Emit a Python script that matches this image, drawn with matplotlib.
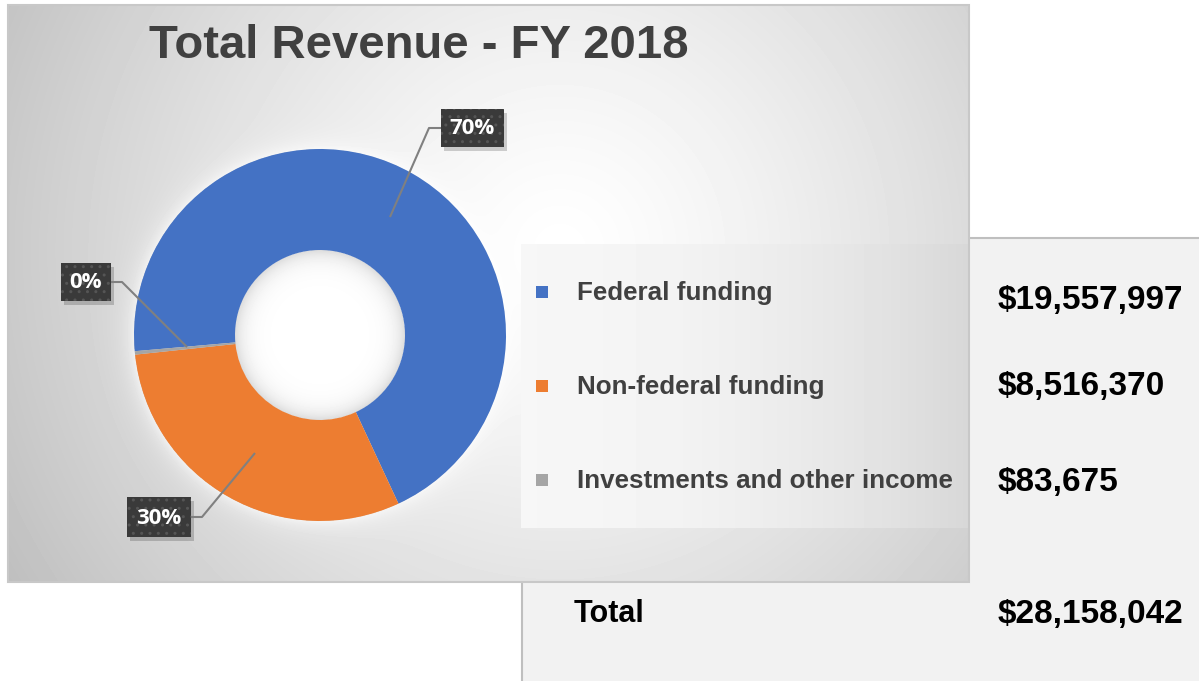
import numpy as np
import matplotlib.pyplot as plt
from matplotlib.patches import Rectangle

categories = ["Federal funding", "Non-federal funding", "Investments and other income"]
amounts = [19557997, 8516370, 83675]
amount_labels = ["$19,557,997", "$8,516,370", "$83,675"]
pct_labels = ["70%", "30%", "0%"]
total_label = "$28,158,042"
colors = ["#4472c4", "#ed7d31", "#a5a5a5"]

W, H = 1199, 681
plt.rcParams["hatch.linewidth"] = 1.0
fig = plt.figure(figsize=(W / 100, H / 100), dpi=100)

bg = fig.add_axes([0, 0, 1, 1])
bg.axis("off")

# table panel on the right (sits behind the chart area)
bg.add_patch(Rectangle((522, 238), W - 522, H - 238, facecolor="#f2f2f2", edgecolor="none", zorder=0))
bg.plot([522, 522], [238, H], color="#bfbfbf", lw=1.5, zorder=0.5)
bg.plot([522, W], [238, 238], color="#bfbfbf", lw=1.5, zorder=0.5)

# chart area background (radial gradient + glow around the donut)
x0, x1, y0, y1 = 8, 969, 5, 582
cx, cy, R, r_in = 320, 335, 186, 85
X, Y = np.meshgrid(np.arange(x0, x1) + 0.5, np.arange(y0, y1) + 0.5)
d = np.hypot(X - 560, Y - 250)
val = 1 - 0.24 * np.clip(d / 620, 0, 1.2) ** 1.3
rd = np.hypot(X - cx, Y - cy)
val = np.where(rd > R, val + (1 - val) * 0.6 * np.exp(-np.clip(rd - R, 0, None) / 10), val)
# legend box
leg = (X >= 521) & (X < 968) & (Y >= 244) & (Y < 528)
val[leg] = 0.965 - 0.12 * ((X[leg] - 521) / 447) ** 2
# donut hole
hole = rd < r_in
val[hole] = 1 - 0.14 * np.exp(-(r_in - rd[hole]) / 10)
bg.imshow(val, cmap="gray", vmin=0, vmax=1, extent=(x0, x1, y1, y0),
          interpolation="bilinear", aspect="auto", zorder=1)
bg.add_patch(Rectangle((x0, y0), x1 - x0, y1 - y0, fill=False, edgecolor="#c8c8c8", lw=1.5, zorder=2))
bg.set_xlim(0, W)
bg.set_ylim(H, 0)

# donut
pax = fig.add_axes([(cx - 200) / W, (H - cy - 200) / H, 400 / W, 400 / H])
pax.pie(amounts, colors=colors, startangle=185, counterclock=False, radius=1,
        wedgeprops=dict(width=1 - r_in / R, edgecolor="none"))
pax.set_xlim(-200 / R, 200 / R)
pax.set_ylim(-200 / R, 200 / R)
pax.axis("off")

# overlay: labels, legend, table text
top = fig.add_axes([0, 0, 1, 1])
top.set_xlim(0, W)
top.set_ylim(H, 0)
top.axis("off")

top.text(419, 46, "Total Revenue - FY 2018", ha="center", va="center", fontsize=34,
         fontweight="bold", color="#404040", family="Liberation Sans")

boxes = [(441, 109, 63, 38), (127, 497, 64, 40), (61, 263, 50, 38)]
leaders = [[(390, 217), (429, 128), (441, 128)],
           [(255, 453), (202, 517), (191, 517)],
           [(187, 347), (122, 282), (111, 282)]]
for lab, (bx, by, bw, bh), pts in zip(pct_labels, boxes, leaders):
    px, py = zip(*pts)
    top.plot(px, py, color="#808080", lw=1.5, solid_capstyle="butt")
    top.add_patch(Rectangle((bx + 3, by + 4), bw, bh, facecolor="black", alpha=0.18, edgecolor="none"))
    top.add_patch(Rectangle((bx, by), bw, bh, facecolor="#3a3a3a", edgecolor="#555555",
                            hatch="..", lw=0))
    top.text(bx + bw / 2, by + bh / 2 + 1, lab, ha="center", va="center", fontsize=16,
             fontweight="bold", color="white", family="Open Sans")

leg_y = [293, 387, 481]
val_y = [300, 387, 483]
for cat, col, ly, amt, vy in zip(categories, colors, leg_y, amount_labels, val_y):
    top.add_patch(Rectangle((536, ly - 7), 12, 12, facecolor=col, edgecolor="none"))
    top.text(577, ly, cat, ha="left", va="center", fontsize=18.7, fontweight="bold",
             color="#404040", family="Liberation Sans")
    top.text(998, vy, amt, ha="left", va="center", fontsize=24, fontweight="bold",
             color="black", family="Liberation Sans")

top.text(574, 614, "Total", ha="left", va="center", fontsize=22, fontweight="bold",
         color="black", family="Liberation Sans")
top.text(998, 614, total_label, ha="left", va="center", fontsize=24, fontweight="bold",
         color="black", family="Liberation Sans")

fig.savefig("out.png", dpi=100)
